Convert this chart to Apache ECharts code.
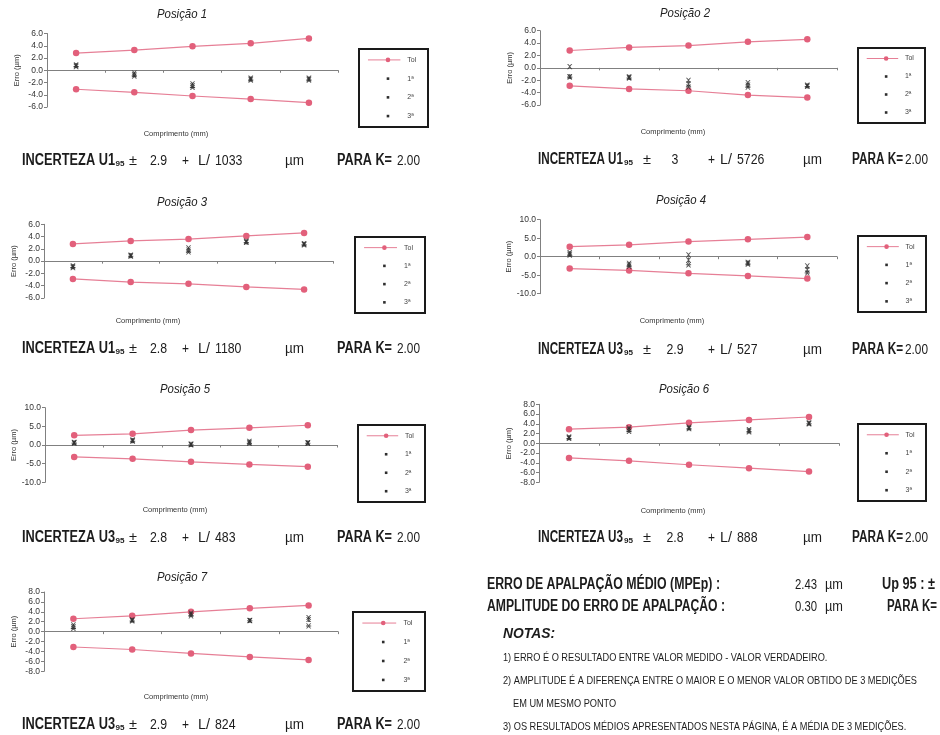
<!DOCTYPE html>
<html>
<head>
<meta charset="utf-8">
<script src="https://cdn.jsdelivr.net/npm/echarts@6/dist/echarts.min.js"></script>
<style>
  html, body { margin: 0; padding: 0; background: #ffffff; }
  #chart { width: 940px; height: 735px; }
</style>
</head>
<body>
<div id="chart"></div>
<script>
// Measuring points along the length (no labels shown on the x axis)
const categories = ['1', '2', '3', '4', '5'];
const seriesNames = ['Tol', '1ª', '2ª', '3ª'];

// Posição 1
const pos1TolSup = [2.8, 3.3, 3.9, 4.4, 5.2];
const pos1TolInf = [-3.1, -3.6, -4.2, -4.7, -5.3];
const pos1Med1 = [0.9, -0.45, -2.2, -1.3, -1.3];
const pos1Med2 = [0.75, -0.7, -2.5, -1.45, -1.45];
const pos1Med3 = [0.6, -0.95, -2.8, -1.6, -1.6];
// Posição 2
const pos2TolSup = [2.8, 3.3, 3.6, 4.2, 4.6];
const pos2TolInf = [-2.9, -3.4, -3.7, -4.4, -4.8];
const pos2Med1 = [0.2, -1.45, -2.0, -2.4, -2.8];
const pos2Med2 = [-1.4, -1.55, -2.6, -2.8, -2.9];
const pos2Med3 = [-1.5, -1.65, -3.1, -3.1, -3.0];
// Posição 3
const pos3TolSup = [2.8, 3.3, 3.6, 4.1, 4.6];
const pos3TolInf = [-2.9, -3.4, -3.7, -4.2, -4.6];
const pos3Med1 = [-0.75, 1.0, 2.15, 3.25, 2.85];
const pos3Med2 = [-0.9, 0.9, 1.8, 3.15, 2.75];
const pos3Med3 = [-1.05, 0.8, 1.5, 3.05, 2.65];
// Posição 4
const pos4TolSup = [2.7, 3.2, 4.1, 4.7, 5.3];
const pos4TolInf = [-3.2, -3.7, -4.5, -5.2, -5.9];
const pos4Med1 = [1.1, -1.8, 0.5, -1.5, -2.5];
const pos4Med2 = [0.7, -2.2, -0.9, -1.75, -3.5];
const pos4Med3 = [0.4, -2.6, -2.2, -2.0, -4.4];
// Posição 5
const pos5TolSup = [2.6, 3.0, 4.0, 4.6, 5.3];
const pos5TolInf = [-3.2, -3.7, -4.5, -5.2, -5.8];
const pos5Med1 = [0.7, 1.35, 0.25, 1.0, 0.65];
const pos5Med2 = [0.6, 1.15, 0.15, 0.7, 0.55];
const pos5Med3 = [0.5, 1.0, 0.05, 0.45, 0.45];
// Posição 6
const pos6TolSup = [2.9, 3.3, 4.2, 4.8, 5.4];
const pos6TolInf = [-3.0, -3.6, -4.4, -5.1, -5.8];
const pos6Med1 = [1.3, 3.15, 3.3, 2.8, 4.2];
const pos6Med2 = [1.15, 2.8, 3.15, 2.55, 4.1];
const pos6Med3 = [1.0, 2.45, 3.0, 2.35, 4.0];
// Posição 7
const pos7TolSup = [2.6, 3.2, 4.0, 4.7, 5.3];
const pos7TolInf = [-3.1, -3.6, -4.4, -5.1, -5.7];
const pos7Med1 = [1.35, 2.4, 3.75, 2.3, 2.85];
const pos7Med2 = [1.0, 2.3, 3.5, 2.25, 2.45];
const pos7Med3 = [0.65, 2.15, 3.2, 2.2, 1.15];

// Y scale per position
const yMin = [-6, -6, -6, -10, -10, -8, -8];
const yMax = [6, 6, 6, 10, 10, 8, 8];
const yStep = [2, 2, 2, 5, 5, 2, 2];

// Uncertainty statement per position
const uncType = ['U1', 'U1', 'U1', 'U3', 'U3', 'U3', 'U3'];
const uncConst = ['2.9', '3', '2.8', '2.9', '2.8', '2.8', '2.9'];
const uncDivisor = ['1033', '5726', '1180', '527', '483', '888', '824'];
const uncK = ['2.00', '2.00', '2.00', '2.00', '2.00', '2.00', '2.00'];

// Summary values
const mpepValue = '2.43';
const amplitudeValue = '0.30';

const tolSup = [pos1TolSup, pos2TolSup, pos3TolSup, pos4TolSup, pos5TolSup, pos6TolSup, pos7TolSup];
const tolInf = [pos1TolInf, pos2TolInf, pos3TolInf, pos4TolInf, pos5TolInf, pos6TolInf, pos7TolInf];
const med1 = [pos1Med1, pos2Med1, pos3Med1, pos4Med1, pos5Med1, pos6Med1, pos7Med1];
const med2 = [pos1Med2, pos2Med2, pos3Med2, pos4Med2, pos5Med2, pos6Med2, pos7Med2];
const med3 = [pos1Med3, pos2Med3, pos3Med3, pos4Med3, pos5Med3, pos6Med3, pos7Med3];

// Page layout of each small chart
const layout = [
  { grid: [47, 33.5, 291, 73.5],  title: [182, 15],  xName: [176, 134], legend: [359, 49, 69, 78],  side: 'L', rowY: 161 },
  { grid: [540, 30.7, 297, 74.3], title: [685, 14],  xName: [673, 132], legend: [858, 48, 67, 75],  side: 'R', rowY: 160 },
  { grid: [44, 224.3, 289, 73.7], title: [182, 203], xName: [148, 321], legend: [355, 237, 70, 76], side: 'L', rowY: 349 },
  { grid: [540, 219.7, 297, 74],  title: [681, 201], xName: [672, 321], legend: [858, 236, 68, 76], side: 'R', rowY: 350 },
  { grid: [45, 407.7, 292, 74.6], title: [185, 390], xName: [175, 510], legend: [358, 425, 67, 77], side: 'L', rowY: 538 },
  { grid: [539, 404.3, 300, 78],  title: [684, 390], xName: [673, 511], legend: [858, 424, 68, 77], side: 'R', rowY: 538 },
  { grid: [44, 592, 294, 79.3],   title: [182, 578], xName: [176, 697], legend: [353, 612, 72, 79], side: 'L', rowY: 725 }
];

const FONT = '"Liberation Sans", Arial, Helvetica, sans-serif';
const TOL_MARK = '#e2607b';
const TOL_LINE = '#e67f96';
const MEAS = '#2e2e2e';
const AXIS = '#808080';
const TEXT = '#1c1c1c';

// Marker shapes for the three measurement runs
const SYMBOL_X = 'path://M0,0L2,0L5,3L8,0L10,0L6,5L10,10L8,10L5,7L2,10L0,10L4,5Z';
const SYMBOL_STAR = 'path://M0,0L2,0L5,3L8,0L10,0L6,5L10,10L8,10L5,7L2,10L0,10L4,5Z M4,0L6,0L6,10L4,10Z';
const SYMBOL_BAR = 'path://M0,0L2,0L5,3L8,0L10,0L6,5L10,10L8,10L5,7L2,10L0,10L4,5Z M0,4L10,4L10,6L0,6Z';

const measureCtx = document.createElement('canvas').getContext('2d');
function measure(t, size, weight, style) {
  measureCtx.font = style + ' ' + weight + ' ' + size + 'px ' + FONT;
  return measureCtx.measureText(t).width;
}
// Text element; narrow typeface emulated by horizontal scaling
function txt(t, x, y, o) {
  o = o || {};
  const size = o.size || 15;
  const weight = o.bold ? 'bold' : 'normal';
  const fstyle = o.italic ? 'italic' : 'normal';
  let sx = o.sx != null ? o.sx : 0.82;
  if (o.w) sx = o.w / measure(t, size, weight, fstyle);
  return {
    type: 'text', x: x, y: y, scaleX: sx, silent: true, z: 10,
    style: {
      text: t, x: 0, y: 0, fontSize: size, fontWeight: weight, fontStyle: fstyle,
      fontFamily: FONT, fill: o.color || TEXT, align: o.align || 'left', verticalAlign: 'middle'
    }
  };
}

function legendBox(b) {
  const x0 = b[0], y0 = b[1], w = b[2], h = b[3];
  const els = [{
    type: 'rect', shape: { x: x0, y: y0, width: w, height: h },
    style: { fill: 'none', stroke: '#1a1a1a', lineWidth: 2 }, silent: true
  }];
  const ys = [0.14, 0.38, 0.62, 0.86].map(f => y0 + h * f);
  const lx1 = x0 + 0.13 * w, lx2 = x0 + 0.6 * w, dx = x0 + 0.42 * w, tx = x0 + 0.7 * w;
  els.push({ type: 'line', shape: { x1: lx1, y1: ys[0], x2: lx2, y2: ys[0] }, style: { stroke: TOL_LINE, lineWidth: 1 }, silent: true });
  els.push({ type: 'circle', shape: { cx: dx, cy: ys[0], r: 2.3 }, style: { fill: TOL_MARK }, silent: true });
  els.push(txt(seriesNames[0], tx, ys[0], { size: 7, sx: 1, color: '#444' }));
  for (let k = 1; k < 4; k++) {
    els.push({ type: 'rect', shape: { x: dx - 1.3, y: ys[k] - 1.3, width: 2.6, height: 2.6 }, style: { fill: MEAS }, silent: true });
    els.push(txt(seriesNames[k], tx, ys[k], { size: 7, sx: 1, color: '#444' }));
  }
  return els;
}

function uncertaintyRow(i) {
  const L = layout[i], y = L.rowY;
  const left = L.side === 'L';
  const p = left
    ? { a: 22, aw: 93, s: 115.5, pm: 129, v: 158.5, plus: 182, l: 198, d: 215, um: 285, k: 337, kw: 55, kv: 397 }
    : { a: 538, aw: 85, s: 624, pm: 643, v: 675, plus: 708, l: 720, d: 737, um: 803, k: 852, kw: 51, kv: 905 };
  return [
    txt('INCERTEZA ' + uncType[i], p.a, y, { size: 16, bold: true, w: p.aw }),
    txt('95', p.s, y + 3, { size: 8, bold: true, w: 9 }),
    txt('±', p.pm, y, { size: 15, w: 8 }),
    txt(uncConst[i], p.v, y, { size: 15, align: 'center' }),
    txt('+', p.plus, y, { size: 15, w: 7 }),
    txt('L/', p.l, y, { size: 15, w: 12 }),
    txt(uncDivisor[i], p.d, y, { size: 15 }),
    txt('µm', p.um, y, { size: 15, w: 19 }),
    txt('PARA K=', p.k, y, { size: 16, bold: true, w: p.kw }),
    txt(uncK[i], p.kv, y, { size: 15, w: 23 })
  ];
}

const grids = [], xAxes = [], yAxes = [], series = [], graphics = [];

layout.forEach((L, i) => {
  grids.push({ left: L.grid[0], top: L.grid[1], width: L.grid[2], height: L.grid[3] });
  xAxes.push({
    type: 'category', gridIndex: i, data: categories, boundaryGap: true,
    axisLine: { show: true, onZero: true, lineStyle: { color: AXIS, width: 1 } },
    axisTick: { show: true, length: 2.5, lineStyle: { color: AXIS } },
    axisLabel: { show: false }, splitLine: { show: false }
  });
  yAxes.push({
    type: 'value', gridIndex: i, min: yMin[i], max: yMax[i], interval: yStep[i],
    axisLine: { show: true, lineStyle: { color: AXIS, width: 1 } },
    axisTick: { show: true, length: 3, lineStyle: { color: AXIS } },
    axisLabel: { fontSize: 8.5, color: '#333', fontFamily: FONT, margin: 4, formatter: v => v.toFixed(1) },
    splitLine: { show: false },
    name: 'Erro (µm)', nameLocation: 'middle', nameGap: 26,
    nameTextStyle: { fontSize: 7.5, color: '#333', fontFamily: FONT }
  });
  const tolStyle = {
    type: 'line', xAxisIndex: i, yAxisIndex: i, name: seriesNames[0],
    symbol: 'circle', symbolSize: 6.5, z: 3,
    itemStyle: { color: TOL_MARK }, lineStyle: { color: TOL_LINE, width: 1.2 }
  };
  series.push(Object.assign({}, tolStyle, { data: tolSup[i] }));
  series.push(Object.assign({}, tolStyle, { data: tolInf[i] }));
  [[med1, SYMBOL_X], [med2, SYMBOL_STAR], [med3, SYMBOL_BAR]].forEach((m, k) => {
    series.push({
      type: 'scatter', xAxisIndex: i, yAxisIndex: i, name: seriesNames[k + 1],
      data: m[0][i], symbol: m[1], symbolSize: 5.2, z: 4,
      itemStyle: { color: MEAS }
    });
  });

  graphics.push(txt('Posição ' + (i + 1), L.title[0], L.title[1], { size: 12, italic: true, sx: 0.95, align: 'center', color: '#222' }));
  graphics.push(txt('Comprimento (mm)', L.xName[0], L.xName[1], { size: 7.5, sx: 1, align: 'center', color: '#333' }));
  legendBox(L.legend).forEach(e => graphics.push(e));
  uncertaintyRow(i).forEach(e => graphics.push(e));
});

// Summary block
graphics.push(txt('ERRO DE APALPAÇÃO MÉDIO (MPEp) :', 487, 585, { size: 16, bold: true, w: 233 }));
graphics.push(txt(mpepValue, 795, 585, { size: 15, w: 22 }));
graphics.push(txt('µm', 825, 585, { size: 15, w: 18 }));
graphics.push(txt('Up 95 : ±', 882, 585, { size: 16, bold: true, w: 53 }));
graphics.push(txt('AMPLITUDE DO ERRO DE APALPAÇÃO :', 487, 607, { size: 16, bold: true, w: 238 }));
graphics.push(txt(amplitudeValue, 795, 607, { size: 15, w: 22 }));
graphics.push(txt('µm', 825, 607, { size: 15, w: 18 }));
graphics.push(txt('PARA K=', 887, 607, { size: 16, bold: true, w: 50 }));
graphics.push(txt('NOTAS:', 503, 634, { size: 15, bold: true, italic: true, w: 52 }));

// Notes share one horizontal scale, taken from the longest line
const notes = [
  ['1) ERRO É O RESULTADO ENTRE VALOR MEDIDO - VALOR VERDADEIRO.', 503, 658],
  ['2) AMPLITUDE É A DIFERENÇA ENTRE O MAIOR E O MENOR VALOR OBTIDO DE 3 MEDIÇÕES', 503, 681],
  ['EM UM MESMO PONTO', 513, 704],
  ['3) OS RESULTADOS MÉDIOS APRESENTADOS NESTA PÁGINA, É A MÉDIA DE 3 MEDIÇÕES.', 503, 727]
];
const noteScale = 414 / measure(notes[1][0], 10.5, 'normal', 'normal');
notes.forEach(n => graphics.push(txt(n[0], n[1], n[2], { size: 10.5, sx: noteScale })));

const chart = echarts.init(document.getElementById('chart'), null, { renderer: 'canvas' });
chart.setOption({
  backgroundColor: '#ffffff',
  animation: false,
  textStyle: { fontFamily: FONT },
  grid: grids,
  xAxis: xAxes,
  yAxis: yAxes,
  series: series,
  graphic: { elements: graphics }
});
</script>
</body>
</html>
